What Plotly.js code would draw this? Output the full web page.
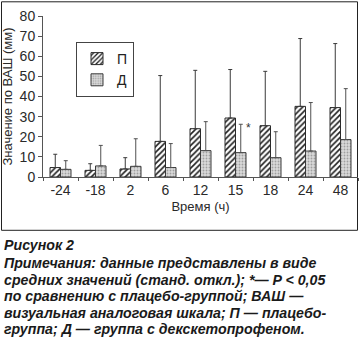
<!DOCTYPE html>
<html>
<head>
<meta charset="utf-8">
<script src="https://cdn.plot.ly/plotly-3.0.1.min.js"></script>
<style>
html,body{margin:0;padding:0;background:#fff;}
#chart{width:361px;height:340px;}
</style>
</head>
<body>
<div id="chart"></div>
<script>
// Data (VAS, mm; mean and SD, upper error bars only)
var timeLabels = ["-24", "-18", "2", "6", "12", "15", "18", "24", "48"];
var placeboMean = [4.7, 3.3, 4.0, 17.7, 24.0, 29.3, 25.5, 35.1, 34.5];
var placeboSD   = [6.6, 3.3, 5.6, 32.7, 29.0, 24.1, 27.0, 33.7, 31.8];
var dexMean     = [3.8, 5.5, 5.3, 4.7, 13.1, 12.1, 9.6, 12.9, 18.6];
var dexSD       = [4.3, 10.2, 13.7, 11.9, 14.4, 14.1, 12.9, 24.1, 25.3];
var yTicks = [0, 10, 20, 30, 40, 50, 60, 70, 80];
var seriesNames = ["П", "Д"];
var yTitle = "Значение по ВАШ (мм)";
var xTitle = "Время (ч)";
var captionLines = [
  "Рисунок 2",
  "Примечания: данные представлены в виде",
  "средних значений (станд. откл.); *— P < 0,05",
  "по сравнению с плацебо-группой; ВАШ —",
  "визуальная аналоговая шкала; П — плацебо-",
  "группа; Д — группа с декскетопрофеном."
];
var sigLabel = "*";
var sigCategory = "15";
var sigY = 24.3;

var W = 361, H = 340;
var mL = 43, mR = 3, mT = 15.7, mB = 163.3;
var plotH = H - mT - mB;
function py(p){ return (H - mB - p) / plotH; }
function px(p){ return (p - mL) / (W - mL - mR); }

var zeros = timeLabels.map(function(){ return 0; });

var traces = [
  {
    type: "bar", name: seriesNames[0], x: timeLabels, y: placeboMean,
    marker: {
      color: "#ffffff",
      line: {color: "#2a2a2a", width: 1},
      pattern: {shape: "/", fgcolor: "#1e1e1e", bgcolor: "#ffffff", size: 4, solidity: 0.4}
    },
    error_y: {type: "data", symmetric: false, array: placeboSD, arrayminus: zeros,
              color: "#3a3a3a", thickness: 1, width: 2}
  },
  {
    type: "bar", name: seriesNames[1], x: timeLabels, y: dexMean,
    marker: {
      color: "#d6d6d6",
      line: {color: "#3a3a3a", width: 1},
      pattern: {shape: ".", fgcolor: "#a0a0a0", bgcolor: "#dadada", size: 3, solidity: 0.3}
    },
    error_y: {type: "data", symmetric: false, array: dexSD, arrayminus: zeros,
              color: "#505050", thickness: 1, width: 2}
  }
];

var annotations = [{
  xref: "x", yref: "y", x: timeLabels.indexOf(sigCategory), y: sigY, xshift: 13,
  text: sigLabel, showarrow: false, font: {family: "Liberation Sans, Arial, sans-serif", size: 12, color: "#333"}
}];
var capY = [244.5, 263, 279.5, 296, 312.3, 328.7];
captionLines.forEach(function(t, i){
  annotations.push({
    xref: "paper", yref: "paper", x: px(2), y: py(capY[i]),
    xanchor: "left", yanchor: "middle", align: "left", showarrow: false,
    text: "<b><i>" + t + "</i></b>",
    font: {family: "Liberation Sans, Arial, sans-serif", size: 14.2, color: "#1a1a1a"}
  });
});

var layout = {
  width: W, height: H,
  margin: {l: mL, r: mR, t: mT, b: mB, pad: 0},
  paper_bgcolor: "#ffffff", plot_bgcolor: "#ffffff",
  barmode: "group", bargap: 0.4, bargroupgap: 0,
  font: {family: "Liberation Sans, Arial, sans-serif", size: 13, color: "#333"},
  showlegend: true,
  legend: {
    x: px(76), y: py(41.7), xanchor: "left", yanchor: "top",
    bgcolor: "#ffffff", bordercolor: "#444", borderwidth: 1,
    font: {size: 14, color: "#222"}, itemwidth: 30, tracegroupgap: 0,
    traceorder: "normal"
  },
  xaxis: {
    type: "category", categoryorder: "array", categoryarray: timeLabels,
    range: [-0.5, timeLabels.length - 0.5], autorange: false,
    showline: true, linecolor: "#555", linewidth: 1,
    ticks: "outside", tickson: "boundaries", ticklen: 3, tickcolor: "#555",
    showgrid: false, zeroline: false, tickangle: 0,
    tickfont: {size: 14, color: "#2a2a2a"},
    title: {text: xTitle, font: {size: 13, color: "#2a2a2a"}, standoff: 5}
  },
  yaxis: {
    range: [0, 80], autorange: false, tickvals: yTicks, ticktext: yTicks.map(String),
    showline: true, linecolor: "#555", linewidth: 1,
    ticks: "outside", ticklen: 4, tickcolor: "#555",
    showgrid: false, zeroline: false,
    tickfont: {size: 14, color: "#2a2a2a"},
    title: {text: yTitle, font: {size: 13, color: "#2a2a2a"}, standoff: 4}
  },
  shapes: [{
    type: "rect", xref: "paper", yref: "paper",
    x0: px(1.5), x1: px(357.5), y0: py(230), y1: py(1.5),
    line: {color: "#222", width: 1}, fillcolor: "rgba(0,0,0,0)", layer: "below"
  }],
  annotations: annotations
};

Plotly.newPlot("chart", traces, layout, {displayModeBar: false, staticPlot: true});
</script>
</body>
</html>
